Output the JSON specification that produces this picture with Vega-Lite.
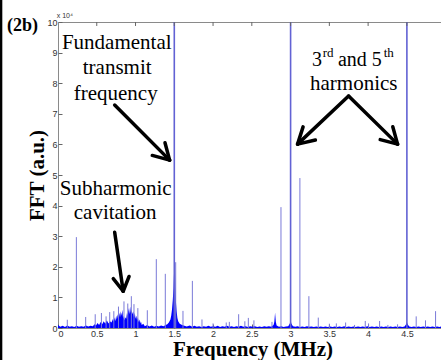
{
  "$schema": "https://vega.github.io/schema/vega-lite/v6.json",
  "width": 383,
  "height": 306,
  "autosize": "none",
  "padding": {"left": 58, "top": 22, "right": 0, "bottom": 32},
  "background": "white",
  "config": {
    "view": {"stroke": "#8a8a8a", "strokeWidth": 1},
    "axis": {
      "domain": false,
      "grid": false,
      "labelFont": "Liberation Sans",
      "labelFontSize": 9,
      "labelColor": "#333333",
      "labelOverlap": false,
      "tickColor": "#666666",
      "tickSize": -4,
      "labelPadding": 5,
      "titleFont": "Liberation Serif",
      "titleFontWeight": "bold",
      "titleFontSize": 21,
      "titleColor": "#000000"
    },
    "axisY": {"tickCount": 11}
  },
  "datasets": {
    "floor": [
      {"f": 0.0, "a": 0.1}, {"f": 0.03, "a": 0.04}, {"f": 0.06, "a": 0.07}, {"f": 0.09, "a": 0.03},
      {"f": 0.12, "a": 0.08}, {"f": 0.15, "a": 0.04}, {"f": 0.18, "a": 0.06}, {"f": 0.21, "a": 0.03},
      {"f": 0.24, "a": 0.07}, {"f": 0.27, "a": 0.04}, {"f": 0.3, "a": 0.06}, {"f": 0.33, "a": 0.04},
      {"f": 0.36, "a": 0.08}, {"f": 0.39, "a": 0.05}, {"f": 0.42, "a": 0.07}, {"f": 0.45, "a": 0.06},
      {"f": 0.47, "a": 0.12}, {"f": 0.49, "a": 0.08}, {"f": 0.51, "a": 0.16}, {"f": 0.53, "a": 0.1},
      {"f": 0.55, "a": 0.2}, {"f": 0.57, "a": 0.12}, {"f": 0.59, "a": 0.22}, {"f": 0.61, "a": 0.14},
      {"f": 0.63, "a": 0.25}, {"f": 0.65, "a": 0.15}, {"f": 0.67, "a": 0.22}, {"f": 0.69, "a": 0.18},
      {"f": 0.71, "a": 0.3}, {"f": 0.72, "a": 0.2}, {"f": 0.73, "a": 0.35}, {"f": 0.74, "a": 0.22},
      {"f": 0.75, "a": 0.4}, {"f": 0.76, "a": 0.28}, {"f": 0.77, "a": 0.45}, {"f": 0.78, "a": 0.3},
      {"f": 0.79, "a": 0.5}, {"f": 0.8, "a": 0.35}, {"f": 0.81, "a": 0.55}, {"f": 0.82, "a": 0.4},
      {"f": 0.83, "a": 0.6}, {"f": 0.84, "a": 0.3}, {"f": 0.85, "a": 0.4}, {"f": 0.86, "a": 0.25},
      {"f": 0.87, "a": 0.35}, {"f": 0.88, "a": 0.3}, {"f": 0.89, "a": 0.5}, {"f": 0.9, "a": 0.4},
      {"f": 0.91, "a": 0.65}, {"f": 0.92, "a": 0.45}, {"f": 0.93, "a": 0.7}, {"f": 0.94, "a": 0.5},
      {"f": 0.95, "a": 0.6}, {"f": 0.96, "a": 0.45}, {"f": 0.97, "a": 0.55}, {"f": 0.98, "a": 0.35},
      {"f": 0.99, "a": 0.5}, {"f": 1.0, "a": 0.3}, {"f": 1.01, "a": 0.4}, {"f": 1.02, "a": 0.25},
      {"f": 1.03, "a": 0.35}, {"f": 1.04, "a": 0.2}, {"f": 1.05, "a": 0.28}, {"f": 1.06, "a": 0.15},
      {"f": 1.07, "a": 0.22}, {"f": 1.08, "a": 0.1}, {"f": 1.1, "a": 0.14}, {"f": 1.12, "a": 0.06},
      {"f": 1.15, "a": 0.1}, {"f": 1.18, "a": 0.05}, {"f": 1.21, "a": 0.08}, {"f": 1.24, "a": 0.04},
      {"f": 1.27, "a": 0.07}, {"f": 1.3, "a": 0.05}, {"f": 1.33, "a": 0.08}, {"f": 1.36, "a": 0.06},
      {"f": 1.39, "a": 0.1}, {"f": 1.41, "a": 0.12}, {"f": 1.43, "a": 0.18}, {"f": 1.45, "a": 0.28},
      {"f": 1.46, "a": 0.4}, {"f": 1.47, "a": 0.6}, {"f": 1.48, "a": 0.9}, {"f": 1.49, "a": 1.3},
      {"f": 1.495, "a": 1.7}, {"f": 1.5, "a": 2.0}, {"f": 1.505, "a": 2.2}, {"f": 1.51, "a": 1.8},
      {"f": 1.515, "a": 1.3}, {"f": 1.52, "a": 0.9}, {"f": 1.53, "a": 0.55}, {"f": 1.54, "a": 0.33},
      {"f": 1.55, "a": 0.22}, {"f": 1.57, "a": 0.14}, {"f": 1.6, "a": 0.1}, {"f": 1.63, "a": 0.07},
      {"f": 1.66, "a": 0.05}, {"f": 1.7, "a": 0.08}, {"f": 1.73, "a": 0.04}, {"f": 1.76, "a": 0.07},
      {"f": 1.79, "a": 0.04}, {"f": 1.82, "a": 0.06}, {"f": 1.85, "a": 0.03}, {"f": 1.88, "a": 0.06},
      {"f": 1.91, "a": 0.04}, {"f": 1.94, "a": 0.07}, {"f": 1.97, "a": 0.04}, {"f": 2.0, "a": 0.06},
      {"f": 2.03, "a": 0.04}, {"f": 2.06, "a": 0.07}, {"f": 2.09, "a": 0.03}, {"f": 2.12, "a": 0.06},
      {"f": 2.15, "a": 0.04}, {"f": 2.18, "a": 0.07}, {"f": 2.21, "a": 0.04}, {"f": 2.24, "a": 0.06},
      {"f": 2.27, "a": 0.03}, {"f": 2.3, "a": 0.06}, {"f": 2.33, "a": 0.04}, {"f": 2.36, "a": 0.07},
      {"f": 2.39, "a": 0.04}, {"f": 2.42, "a": 0.06}, {"f": 2.45, "a": 0.03}, {"f": 2.48, "a": 0.06},
      {"f": 2.51, "a": 0.04}, {"f": 2.54, "a": 0.06}, {"f": 2.57, "a": 0.03}, {"f": 2.6, "a": 0.05},
      {"f": 2.63, "a": 0.03}, {"f": 2.66, "a": 0.06}, {"f": 2.69, "a": 0.04}, {"f": 2.72, "a": 0.06},
      {"f": 2.75, "a": 0.04}, {"f": 2.78, "a": 0.1}, {"f": 2.79, "a": 0.2}, {"f": 2.8, "a": 0.5},
      {"f": 2.81, "a": 0.2}, {"f": 2.82, "a": 0.08}, {"f": 2.85, "a": 0.04}, {"f": 2.88, "a": 0.06},
      {"f": 2.91, "a": 0.03}, {"f": 2.94, "a": 0.05}, {"f": 2.97, "a": 0.06}, {"f": 2.99, "a": 0.15},
      {"f": 3.0, "a": 0.25}, {"f": 3.01, "a": 0.15}, {"f": 3.03, "a": 0.06}, {"f": 3.06, "a": 0.04},
      {"f": 3.09, "a": 0.06}, {"f": 3.12, "a": 0.03}, {"f": 3.15, "a": 0.05}, {"f": 3.18, "a": 0.03},
      {"f": 3.21, "a": 0.06}, {"f": 3.24, "a": 0.04}, {"f": 3.27, "a": 0.05}, {"f": 3.3, "a": 0.03},
      {"f": 3.33, "a": 0.05}, {"f": 3.36, "a": 0.03}, {"f": 3.39, "a": 0.05}, {"f": 3.42, "a": 0.03},
      {"f": 3.45, "a": 0.05}, {"f": 3.48, "a": 0.03}, {"f": 3.51, "a": 0.05}, {"f": 3.54, "a": 0.03},
      {"f": 3.57, "a": 0.05}, {"f": 3.6, "a": 0.03}, {"f": 3.63, "a": 0.05}, {"f": 3.66, "a": 0.03},
      {"f": 3.69, "a": 0.06}, {"f": 3.72, "a": 0.03}, {"f": 3.75, "a": 0.05}, {"f": 3.78, "a": 0.03},
      {"f": 3.81, "a": 0.05}, {"f": 3.84, "a": 0.03}, {"f": 3.87, "a": 0.05}, {"f": 3.9, "a": 0.03},
      {"f": 3.93, "a": 0.05}, {"f": 3.96, "a": 0.03}, {"f": 3.99, "a": 0.06}, {"f": 4.02, "a": 0.03},
      {"f": 4.05, "a": 0.05}, {"f": 4.08, "a": 0.03}, {"f": 4.11, "a": 0.05}, {"f": 4.14, "a": 0.03},
      {"f": 4.17, "a": 0.05}, {"f": 4.2, "a": 0.03}, {"f": 4.23, "a": 0.05}, {"f": 4.26, "a": 0.03},
      {"f": 4.29, "a": 0.05}, {"f": 4.32, "a": 0.03}, {"f": 4.35, "a": 0.05}, {"f": 4.38, "a": 0.03},
      {"f": 4.41, "a": 0.05}, {"f": 4.44, "a": 0.03}, {"f": 4.47, "a": 0.05}, {"f": 4.49, "a": 0.12},
      {"f": 4.5, "a": 0.2}, {"f": 4.51, "a": 0.12}, {"f": 4.53, "a": 0.05}, {"f": 4.56, "a": 0.03},
      {"f": 4.59, "a": 0.05}, {"f": 4.62, "a": 0.03}, {"f": 4.65, "a": 0.05}, {"f": 4.68, "a": 0.03},
      {"f": 4.71, "a": 0.05}, {"f": 4.74, "a": 0.03}, {"f": 4.77, "a": 0.05}, {"f": 4.8, "a": 0.03},
      {"f": 4.83, "a": 0.05}, {"f": 4.86, "a": 0.03}, {"f": 4.89, "a": 0.05}, {"f": 4.92, "a": 0.03},
      {"f": 4.94, "a": 0.05}
    ],
    "spikes": [
      {"f": 0.12, "h": 0.27, "kind": "spur"}, {"f": 0.237, "h": 2.97, "kind": "spur"},
      {"f": 0.357, "h": 0.36, "kind": "spur"}, {"f": 0.48, "h": 0.45, "kind": "spur"},
      {"f": 0.56, "h": 0.49, "kind": "spur"}, {"f": 0.62, "h": 0.38, "kind": "spur"},
      {"f": 0.667, "h": 0.52, "kind": "spur"}, {"f": 0.72, "h": 0.55, "kind": "spur"},
      {"f": 0.78, "h": 0.7, "kind": "spur"}, {"f": 0.851, "h": 0.87, "kind": "spur"},
      {"f": 0.9, "h": 0.8, "kind": "spur"}, {"f": 0.946, "h": 1.04, "kind": "spur"},
      {"f": 0.98, "h": 0.78, "kind": "spur"}, {"f": 1.03, "h": 0.65, "kind": "spur"},
      {"f": 1.152, "h": 0.58, "kind": "spur"}, {"f": 1.268, "h": 2.25, "kind": "spur"},
      {"f": 1.384, "h": 1.77, "kind": "spur"}, {"f": 1.518, "h": 2.15, "kind": "spur"},
      {"f": 1.612, "h": 0.56, "kind": "spur"}, {"f": 1.733, "h": 1.54, "kind": "spur"},
      {"f": 1.857, "h": 0.28, "kind": "spur"}, {"f": 2.0, "h": 0.15, "kind": "spur"},
      {"f": 2.17, "h": 0.18, "kind": "spur"}, {"f": 2.21, "h": 0.2, "kind": "spur"},
      {"f": 2.33, "h": 0.45, "kind": "spur"}, {"f": 2.41, "h": 0.22, "kind": "spur"},
      {"f": 2.455, "h": 0.33, "kind": "spur"}, {"f": 2.527, "h": 0.25, "kind": "spur"},
      {"f": 2.76, "h": 0.2, "kind": "spur"}, {"f": 2.876, "h": 3.95, "kind": "spur"},
      {"f": 3.12, "h": 4.9, "kind": "spur"}, {"f": 3.236, "h": 1.04, "kind": "spur"},
      {"f": 3.357, "h": 0.34, "kind": "spur"}, {"f": 3.5, "h": 0.14, "kind": "spur"},
      {"f": 3.59, "h": 0.15, "kind": "spur"}, {"f": 3.71, "h": 0.18, "kind": "spur"},
      {"f": 3.825, "h": 0.1, "kind": "spur"}, {"f": 3.963, "h": 0.23, "kind": "spur"},
      {"f": 4.006, "h": 0.15, "kind": "spur"}, {"f": 4.148, "h": 0.23, "kind": "spur"},
      {"f": 4.255, "h": 0.1, "kind": "spur"}, {"f": 4.38, "h": 0.12, "kind": "spur"},
      {"f": 4.62, "h": 0.38, "kind": "spur"}, {"f": 4.74, "h": 0.25, "kind": "spur"},
      {"f": 4.87, "h": 0.55, "kind": "spur"},
      {"f": 1.5, "h": 10, "kind": "harmonic"}, {"f": 3.0, "h": 10, "kind": "harmonic"},
      {"f": 4.5, "h": 10, "kind": "harmonic"}
    ],
    "topticks": [
      {"x": 0.5, "y": 10, "y2": 9.87}, {"x": 1, "y": 10, "y2": 9.87}, {"x": 1.5, "y": 10, "y2": 9.87},
      {"x": 2, "y": 10, "y2": 9.87}, {"x": 2.5, "y": 10, "y2": 9.87}, {"x": 3, "y": 10, "y2": 9.87},
      {"x": 3.5, "y": 10, "y2": 9.87}, {"x": 4, "y": 10, "y2": 9.87}, {"x": 4.5, "y": 10, "y2": 9.87}
    ],
    "arrows": [
      {"x": 0.731, "y": 7.285, "x2": 1.44, "y2": 5.486},
      {"x": 1.44, "y": 5.486, "x2": 1.216, "y2": 5.64},
      {"x": 1.44, "y": 5.486, "x2": 1.38, "y2": 6.055},
      {"x": 0.731, "y": 3.131, "x2": 0.841, "y2": 1.201},
      {"x": 0.841, "y": 1.201, "x2": 0.713, "y2": 1.613},
      {"x": 0.841, "y": 1.201, "x2": 0.917, "y2": 1.685},
      {"x": 3.748, "y": 7.58, "x2": 3.09, "y2": 6.009},
      {"x": 3.09, "y": 6.009, "x2": 3.161, "y2": 6.572},
      {"x": 3.09, "y": 6.009, "x2": 3.32, "y2": 6.143},
      {"x": 3.748, "y": 7.58, "x2": 4.38, "y2": 6.009},
      {"x": 4.38, "y": 6.009, "x2": 4.156, "y2": 6.156},
      {"x": 4.38, "y": 6.009, "x2": 4.318, "y2": 6.575}
    ],
    "labels": [
      {"t": "Fundamental", "x": 0.758, "y": 9.133},
      {"t": "transmit", "x": 0.763, "y": 8.299},
      {"t": "frequency", "x": 0.744, "y": 7.464},
      {"t": "Subharmonic", "x": 0.744, "y": 4.344},
      {"t": "cavitation", "x": 0.737, "y": 3.546},
      {"t": "harmonics", "x": 3.815, "y": 7.775}
    ],
    "leftlabels": [
      {"t": "3", "x": 3.275, "y": 8.558},
      {"t": "and 5", "x": 3.61, "y": 8.558}
    ],
    "sups": [
      {"t": "rd", "x": 3.415, "y": 8.855},
      {"t": "th", "x": 4.2, "y": 8.855}
    ]
  },
  "layer": [
    {
      "data": {"name": "floor"},
      "mark": {"type": "area", "color": "#0000ff", "clip": true},
      "encoding": {
        "x": {"field": "f", "type": "quantitative", "scale": {"domain": [0, 4.94], "nice": false, "zero": false},
              "axis": {"values": [0, 0.5, 1, 1.5, 2, 2.5, 3, 3.5, 4, 4.5], "format": "~g", "title": "Frequency (MHz)",
                       "titleX": 194.5, "titleY": 27.5, "titleBaseline": "alphabetic", "titleAnchor": "start", "titleAlign": "center"}},
        "y": {"field": "a", "type": "quantitative", "scale": {"domain": [0, 10], "nice": false, "zero": false},
              "axis": {"values": [0, 1, 2, 3, 4, 5, 6, 7, 8, 9, 10], "tickCount": 11, "title": "FFT (a.u.)",
                       "titleX": -14.3, "titleY": 153, "titleBaseline": "alphabetic", "titleAlign": "center", "titleAngle": -90}}
      }
    },
    {
      "data": {"name": "spikes"},
      "transform": [{"filter": "datum.kind === 'spur'"}],
      "mark": {"type": "rule", "color": "#7a7ad8", "strokeWidth": 1, "clip": true},
      "encoding": {
        "x": {"field": "f", "type": "quantitative"},
        "y": {"field": "h", "type": "quantitative"},
        "y2": {"datum": 0}
      }
    },
    {
      "data": {"name": "spikes"},
      "transform": [{"filter": "datum.kind === 'harmonic'"}],
      "mark": {"type": "rule", "color": "#6262d4", "strokeWidth": 1.6, "clip": true},
      "encoding": {
        "x": {"field": "f", "type": "quantitative"},
        "y": {"field": "h", "type": "quantitative"},
        "y2": {"datum": 0}
      }
    },
    {
      "data": {"name": "topticks"},
      "mark": {"type": "rule", "color": "#666666", "strokeWidth": 1},
      "encoding": {
        "x": {"field": "x", "type": "quantitative"},
        "y": {"field": "y", "type": "quantitative"},
        "y2": {"field": "y2"}
      }
    },
    {
      "data": {"name": "arrows"},
      "mark": {"type": "rule", "color": "#000000", "strokeWidth": 3.5, "strokeCap": "round"},
      "encoding": {
        "x": {"field": "x", "type": "quantitative"},
        "y": {"field": "y", "type": "quantitative"},
        "x2": {"field": "x2"},
        "y2": {"field": "y2"}
      }
    },
    {
      "data": {"name": "labels"},
      "mark": {"type": "text", "font": "Liberation Serif", "fontSize": 21, "align": "center", "baseline": "alphabetic", "color": "#000000"},
      "encoding": {
        "x": {"field": "x", "type": "quantitative"},
        "y": {"field": "y", "type": "quantitative"},
        "text": {"field": "t"}
      }
    },
    {
      "data": {"name": "leftlabels"},
      "mark": {"type": "text", "font": "Liberation Serif", "fontSize": 20, "align": "left", "baseline": "alphabetic", "color": "#000000"},
      "encoding": {
        "x": {"field": "x", "type": "quantitative"},
        "y": {"field": "y", "type": "quantitative"},
        "text": {"field": "t"}
      }
    },
    {
      "data": {"name": "sups"},
      "mark": {"type": "text", "font": "Liberation Serif", "fontSize": 13, "align": "left", "baseline": "alphabetic", "color": "#000000"},
      "encoding": {
        "x": {"field": "x", "type": "quantitative"},
        "y": {"field": "y", "type": "quantitative"},
        "text": {"field": "t"}
      }
    },
    {
      "data": {"values": [{"t": "(2b)", "x": -0.458, "y": 9.705}]},
      "mark": {"type": "text", "font": "Liberation Serif", "fontSize": 18, "fontWeight": "bold", "align": "center", "baseline": "alphabetic", "color": "#000000"},
      "encoding": {
        "x": {"field": "x", "type": "quantitative"},
        "y": {"field": "y", "type": "quantitative"},
        "text": {"field": "t"}
      }
    },
    {
      "data": {"values": [{"t": "x 10⁴", "x": -0.017, "y": 10.13}]},
      "mark": {"type": "text", "font": "Liberation Sans", "fontSize": 7, "align": "left", "baseline": "alphabetic", "color": "#333333"},
      "encoding": {
        "x": {"field": "x", "type": "quantitative"},
        "y": {"field": "y", "type": "quantitative"},
        "text": {"field": "t"}
      }
    },
    {
      "data": {"values": [{"x": -0.735, "y": -1.1, "y2": 10.8}]},
      "mark": {"type": "rule", "color": "#000000", "strokeWidth": 2.6},
      "encoding": {
        "x": {"field": "x", "type": "quantitative"},
        "y": {"field": "y", "type": "quantitative"},
        "y2": {"field": "y2"}
      }
    }
  ]
}
